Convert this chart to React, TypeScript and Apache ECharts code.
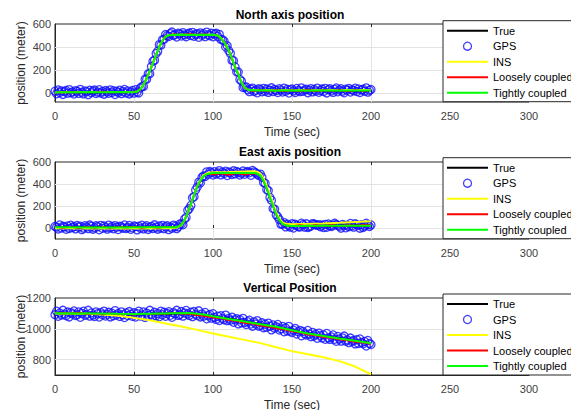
import React, { useEffect, useRef } from 'react';
import * as echarts from 'echarts';

const FONT = '"Liberation Sans", Arial, Helvetica, sans-serif';

const seriesNames = ['True', 'GPS', 'INS', 'Loosely coupled', 'Tightly coupled'];
const panelTitles = ['North axis position', 'East axis position', 'Vertical Position'];
const xTicks = { min: 0, max: 300, step: 50 };
const gpsStep = 1; // seconds between GPS fixes

// ---------- North ----------
const northTrue = [[0,5],[10,6],[20,7],[30,6],[40,6],[50,7],[52,10],[54,30],[56,70],[58,125],[60,190],[62,260],[64,330],[66,400],[68,455],[70,490],[72,503],[74,506],[90,506],[100,505],[102,503],[104,490],[106,460],[108,420],[110,370],[112,300],[114,225],[116,160],[118,90],[120,45],[122,28],[124,22],[130,20],[160,20],[200,20]];
const northIns = [[0,5],[20,7],[40,7],[50,8],[52,11],[54,31],[56,71],[58,126],[60,191],[62,261],[64,331],[66,401],[68,456],[70,491],[72,504],[74,507],[100,507],[102,504],[104,491],[106,461],[108,421],[110,371],[112,301],[114,226],[116,161],[118,91],[120,46],[122,29],[124,23],[160,22],[200,24]];
const northLoose = [[0,8],[5,3],[10,10],[15,2],[20,9],[25,4],[30,11],[35,3],[40,8],[45,2],[50,10],[52,14],[54,32],[56,68],[58,130],[60,185],[62,265],[64,325],[66,405],[68,450],[70,493],[72,500],[75,510],[80,500],[85,512],[90,502],[95,510],[100,500],[102,505],[104,487],[106,462],[108,415],[110,372],[112,296],[114,228],[116,156],[118,93],[120,42],[122,30],[125,17],[130,26],[135,15],[140,27],[145,14],[150,25],[155,16],[160,28],[165,15],[170,24],[175,17],[180,27],[185,14],[190,25],[195,16],[200,22]];
const northTight = [[0,6],[10,5],[20,8],[30,6],[40,7],[50,6],[52,11],[54,31],[56,69],[58,127],[60,189],[62,262],[64,329],[66,401],[68,454],[70,491],[72,502],[74,505],[80,507],[90,505],[100,506],[102,502],[104,491],[106,459],[108,421],[110,368],[112,301],[114,224],[116,161],[118,89],[120,46],[122,27],[124,23],[140,21],[160,20],[180,21],[200,20]];
const northGps = [
  14,-8,25,3,17,-14,11,21,-3,28,
  0,8,-11,19,13,-5,30,5,-9,16,
  10,-16,22,1,15,24,-6,6,27,-2,
  12,-12,20,9,-4,26,2,18,-15,14,
  4,23,-7,11,29,-1,16,-10,7,21,
  -3,27,7,-1,42,54,56,118,119,166,
  167,229,276,285,343,363,420,415,462,467,
  508,498,491,516,530,501,509,486,520,514,
  495,525,505,489,512,521,499,527,493,508,
  516,484,523,502,515,490,529,507,497,519,
  488,511,519,491,510,465,463,452,399,410,
  367,344,285,280,225,182,182,117,102,46,
  51,52,26,10,31,41,12,24,0,35,
  27,9,39,15,33,4,22,44,11,30,
  19,2,36,25,7,40,14,31,-2,28,
  34,17,3,38,21,10,43,13,26,32,
  1,23,37,8,29,16,41,5,20,33,
  12,39,-1,27,35,18,4,30,42,9,
  24,36,14,0,32,22,38,7,28,19,
  40,11,34,3,25,31,15,43,6,23,
  29,
];

// ---------- East ----------
const eastTrue = [[0,5],[20,5],[40,4],[60,5],[76,6],[78,12],[80,30],[82,70],[84,140],[86,215],[88,300],[90,375],[92,430],[94,470],[96,490],[98,497],[100,498],[126,500],[128,495],[130,475],[132,430],[134,360],[136,280],[138,200],[140,125],[142,70],[144,38],[146,24],[150,20],[175,20],[200,22]];
const eastIns = [[0,-3],[20,-4],[40,-5],[60,-4],[75,-2],[78,8],[80,28],[82,68],[84,138],[86,215],[88,302],[90,380],[92,438],[94,478],[96,498],[98,505],[100,507],[110,510],[120,514],[125,516],[128,512],[130,494],[132,450],[134,380],[136,300],[138,218],[140,142],[142,85],[144,52],[146,38],[150,35],[160,38],[170,42],[180,48],[190,55],[200,62]];
const eastLoose = [[0,10],[5,0],[10,8],[15,-2],[20,9],[25,1],[30,10],[35,0],[40,8],[45,2],[50,11],[55,-1],[60,9],[65,1],[70,10],[75,4],[78,14],[80,32],[82,72],[84,138],[86,218],[88,298],[90,378],[92,428],[94,472],[96,487],[98,492],[100,485],[105,495],[110,482],[115,498],[120,484],[125,496],[128,492],[130,478],[132,428],[134,362],[136,278],[138,202],[140,122],[142,72],[144,36],[146,26],[150,18],[155,28],[160,16],[165,27],[170,19],[175,29],[180,17],[185,28],[190,20],[195,30],[200,24]];
const eastTight = [[0,6],[20,5],[40,5],[60,6],[76,7],[78,13],[80,31],[82,71],[84,141],[86,214],[88,299],[90,376],[92,431],[94,469],[96,489],[98,496],[100,499],[126,501],[128,494],[130,476],[132,429],[134,361],[136,279],[138,201],[140,124],[142,71],[144,37],[146,23],[150,19],[175,20],[200,21]];
const eastGps = [
  14,8,-9,28,0,16,10,-12,19,-4,
  25,4,13,-8,23,7,17,-15,-1,21,
  9,-6,27,15,-11,3,20,12,-16,24,
  -3,18,5,-10,26,1,14,-7,22,8,
  -14,17,11,-2,28,-5,6,23,-12,2,
  19,13,-17,16,-1,25,-8,10,21,-13,
  4,15,-4,29,7,-11,18,0,24,-6,
  12,20,-15,9,-3,26,14,-6,10,37,
  36,29,82,96,162,177,205,275,285,346,
  372,417,409,461,473,468,510,488,513,503,
  481,512,490,500,522,483,508,495,516,477,
  509,501,486,520,492,514,505,482,498,518,
  488,507,513,502,479,523,510,502,490,478,
  490,462,414,407,350,340,278,253,177,172,
  119,102,76,35,35,49,10,34,20,8,
  38,0,34,23,12,9,44,31,8,38,
  5,12,18,40,36,30,24,31,11,25,
  4,33,7,37,21,13,25,43,32,24,
  16,-1,32,23,2,26,12,41,20,8,
  38,29,24,-2,30,5,19,44,31,14,
  28,
];

// ---------- Vertical ----------
const vertTrue = [[0,1100],[25,1098],[50,1095],[75,1100],[85,1102],[95,1090],[100,1080],[110,1065],[120,1047],[130,1030],[140,1012],[150,990],[160,970],[170,952],[180,938],[190,922],[200,907]];
const vertIns = [[0,1100],[20,1098],[30,1093],[40,1085],[50,1072],[60,1055],[70,1035],[80,1015],[90,993],[100,970],[110,948],[120,928],[130,907],[140,880],[150,855],[160,835],[170,815],[180,790],[190,755],[200,705]];
const vertLoose = [[0,1100],[5,1104],[10,1097],[15,1106],[20,1095],[25,1099],[30,1094],[35,1101],[40,1093],[45,1098],[50,1092],[55,1099],[60,1094],[65,1100],[70,1096],[75,1102],[80,1098],[85,1096],[90,1088],[95,1082],[100,1072],[105,1068],[110,1056],[115,1050],[120,1038],[125,1032],[130,1020],[135,1014],[140,1002],[145,995],[150,982],[155,976],[160,962],[165,956],[170,945],[175,940],[180,930],[185,924],[190,915],[195,910],[200,902]];
const vertTight = [[0,1101],[10,1100],[25,1099],[40,1097],[50,1096],[60,1098],[75,1101],[85,1102],[90,1098],[95,1091],[100,1081],[110,1064],[120,1048],[130,1029],[140,1013],[150,991],[160,969],[170,953],[180,937],[190,923],[200,906]];
const vertGps = [
  1092,1114,1081,1103,1089,1120,1095,1085,1109,1077,
  1105,1097,1116,1086,1092,1110,1075,1100,1114,1088,
  1094,1120,1082,1103,1089,1080,1110,1098,1076,1105,
  1091,1115,1083,1094,1107,1077,1101,1085,1118,1089,
  1099,1080,1110,1092,1073,1103,1086,1112,1095,1081,
  1104,1076,1098,1114,1083,1090,1110,1074,1102,1087,
  1120,1093,1081,1107,1084,1099,1078,1114,1092,1107,
  1081,1099,1111,1088,1075,1105,1097,1120,1087,1093,
  1112,1082,1102,1119,1096,1087,1108,1079,1112,1095,
  1086,1117,1077,1097,1082,1106,1065,1085,1093,1069,
  1098,1074,1061,1082,1054,1085,1068,1059,1089,1053,
  1068,1055,1076,1042,1058,1066,1032,1059,1039,1068,
  1041,1028,1046,1056,1031,1017,1045,1031,1053,1017,
  1023,1039,1007,1030,1010,1037,1017,993,1025,1004,
  1013,1028,992,1000,1016,981,1005,986,1016,984,
  976,991,1003,966,981,990,955,983,968,960,
  989,965,949,977,954,965,938,972,956,941,
  960,932,970,941,931,947,960,932,919,950,
  934,920,941,953,920,928,910,940,917,925,
  902,929,905,934,911,903,918,888,924,905,
  898,
];

// y axis ranges and gridline values per panel
const yMins = [-80, -100, 700];
const yMaxs = [600, 600, 1200];
const yIntervals = [40, 100, 100];
const yLabelStep = 200;
const yGridLines = [[0, 200, 400], [0, 200, 400], [800, 1000]];

const panels = [
  { t: northTrue, ins: northIns, loose: northLoose, tight: northTight, gps: northGps },
  { t: eastTrue, ins: eastIns, loose: eastLoose, tight: eastTight, gps: eastGps },
  { t: vertTrue, ins: vertIns, loose: vertLoose, tight: vertTight, gps: vertGps },
];

// layout
const gridTops = [24, 162, 298];
const gridHeights = [78, 77, 77];
const legendTops = [20.7, 157.7, 294];
const titleYs = [15.3, 151.6, 288];

const AXIS_COLOR = '#262626';
const GRID_COLOR = '#e3e3e3';
const LINE_ICON = 'path://M0 0H41V2H0Z';

export default function App() {
  const ref = useRef<HTMLDivElement>(null);
  useEffect(() => {
    if (!ref.current) return;
    const chart = echarts.init(ref.current, undefined, { renderer: 'svg' });

    const grids = gridTops.map((top, i) => ({
      left: 55,
      right: 42,
      top,
      height: gridHeights[i],
      containLabel: false,
      outerBoundsMode: 'none',
      show: true,
      borderColor: AXIS_COLOR,
      borderWidth: 1,
      backgroundColor: '#ffffff',
    }));

    const xAxes: any[] = [];
    const yAxes: any[] = [];
    panels.forEach((_, g) => {
      xAxes.push({
        type: 'value',
        gridIndex: g,
        min: xTicks.min,
        max: xTicks.max,
        interval: xTicks.step,
        position: 'bottom',
        name: 'Time (sec)',
        nameLocation: 'middle',
        nameGap: 24,
        nameMoveOverlap: false,
        nameTextStyle: { fontSize: 12, color: AXIS_COLOR, fontFamily: FONT },
        axisLine: { show: true, lineStyle: { color: AXIS_COLOR, width: 1 } },
        axisTick: { show: true, inside: true, length: 3, lineStyle: { color: AXIS_COLOR } },
        axisLabel: { fontSize: 11, color: '#404040', margin: 8, fontFamily: FONT },
        splitLine: { show: true, lineStyle: { color: GRID_COLOR, width: 1 } },
      });
      yAxes.push({
        type: 'value',
        gridIndex: g,
        min: yMins[g],
        max: yMaxs[g],
        interval: yIntervals[g],
        name: 'position (meter)',
        nameLocation: 'middle',
        nameGap: 28,
        nameMoveOverlap: false,
        nameTextStyle: { fontSize: 12, color: AXIS_COLOR, fontFamily: FONT },
        axisLine: { show: true, lineStyle: { color: AXIS_COLOR, width: 1 } },
        axisTick: { show: false },
        axisLabel: {
          fontSize: 11,
          color: '#404040',
          margin: 4,
          fontFamily: FONT,
          formatter: (v: number) => (v % yLabelStep === 0 ? String(v) : ''),
        },
        splitLine: { show: false },
      });
    });
    // top tick marks (MATLAB box style)
    panels.forEach((_, g) => {
      xAxes.push({
        type: 'value',
        gridIndex: g,
        min: xTicks.min,
        max: xTicks.max,
        interval: xTicks.step,
        position: 'top',
        axisLine: { show: false },
        axisTick: { show: true, inside: true, length: 3, lineStyle: { color: AXIS_COLOR } },
        axisLabel: { show: false },
        splitLine: { show: false },
      });
    });

    const series: any[] = [];
    panels.forEach((p, g) => {
      series.push({
        name: 'True',
        type: 'line',
        xAxisIndex: g,
        yAxisIndex: g,
        data: p.t,
        symbol: 'none',
        color: '#000000',
        lineStyle: { color: '#000000', width: 2 },
        markLine: {
          silent: true,
          symbol: 'none',
          z: 1,
          animation: false,
          label: { show: false },
          emphasis: { disabled: true },
          lineStyle: { color: GRID_COLOR, width: 1, type: 'solid' },
          data: yGridLines[g].map((v) => ({ yAxis: v })),
        },
      });
      series.push({
        name: 'GPS',
        type: 'scatter',
        xAxisIndex: g,
        yAxisIndex: g,
        data: p.gps.map((v, i) => [i * gpsStep, v]),
        symbol: 'circle',
        symbolSize: 8,
        color: '#0000ff',
        itemStyle: { color: 'rgba(0,0,0,0)', borderColor: '#1010ff', borderWidth: 1.3 },
      });
      series.push({
        name: 'INS',
        type: 'line',
        xAxisIndex: g,
        yAxisIndex: g,
        data: p.ins,
        symbol: 'none',
        color: '#ffff00',
        lineStyle: { color: '#ffff00', width: 2 },
      });
      series.push({
        name: 'Loosely coupled',
        type: 'line',
        xAxisIndex: g,
        yAxisIndex: g,
        data: p.loose,
        symbol: 'none',
        color: '#ff0000',
        lineStyle: { color: '#ff0000', width: 1.5 },
      });
      series.push({
        name: 'Tightly coupled',
        type: 'line',
        xAxisIndex: g,
        yAxisIndex: g,
        data: p.tight,
        symbol: 'none',
        color: '#00ff00',
        lineStyle: { color: '#00ff00', width: 2 },
      });
    });

    const legendData = seriesNames.map((name) =>
      name === 'GPS'
        ? { name, itemStyle: { borderWidth: 1.3 } }
        : { name, icon: LINE_ICON }
    );

    const legends = legendTops.map((top) => ({
      orient: 'vertical',
      left: 443,
      top,
      data: legendData,
      selectedMode: false,
      backgroundColor: '#ffffff',
      borderColor: AXIS_COLOR,
      borderWidth: 1,
      borderRadius: 0,
      padding: [4, 8, 3, 4],
      itemWidth: 41,
      itemHeight: 8,
      itemGap: 3.5,
      textStyle: { fontSize: 11, lineHeight: 12, color: '#000000', fontFamily: FONT },
    }));

    const graphic = panelTitles.map((text, i) => ({
      type: 'text',
      x: 290,
      y: titleYs[i],
      silent: true,
      style: {
        text,
        align: 'center',
        verticalAlign: 'middle',
        fontSize: 12,
        fontWeight: 'bold',
        fontFamily: FONT,
        fill: '#000000',
      },
    }));

    chart.setOption({
      animation: false,
      backgroundColor: '#ffffff',
      grid: grids,
      xAxis: xAxes,
      yAxis: yAxes,
      legend: legends,
      series,
      graphic,
    });
    return () => chart.dispose();
  }, []);

  return (
    <div
      ref={ref}
      style={{ position: 'absolute', left: 0, top: 0, width: 571, height: 410 }}
    />
  );
}
